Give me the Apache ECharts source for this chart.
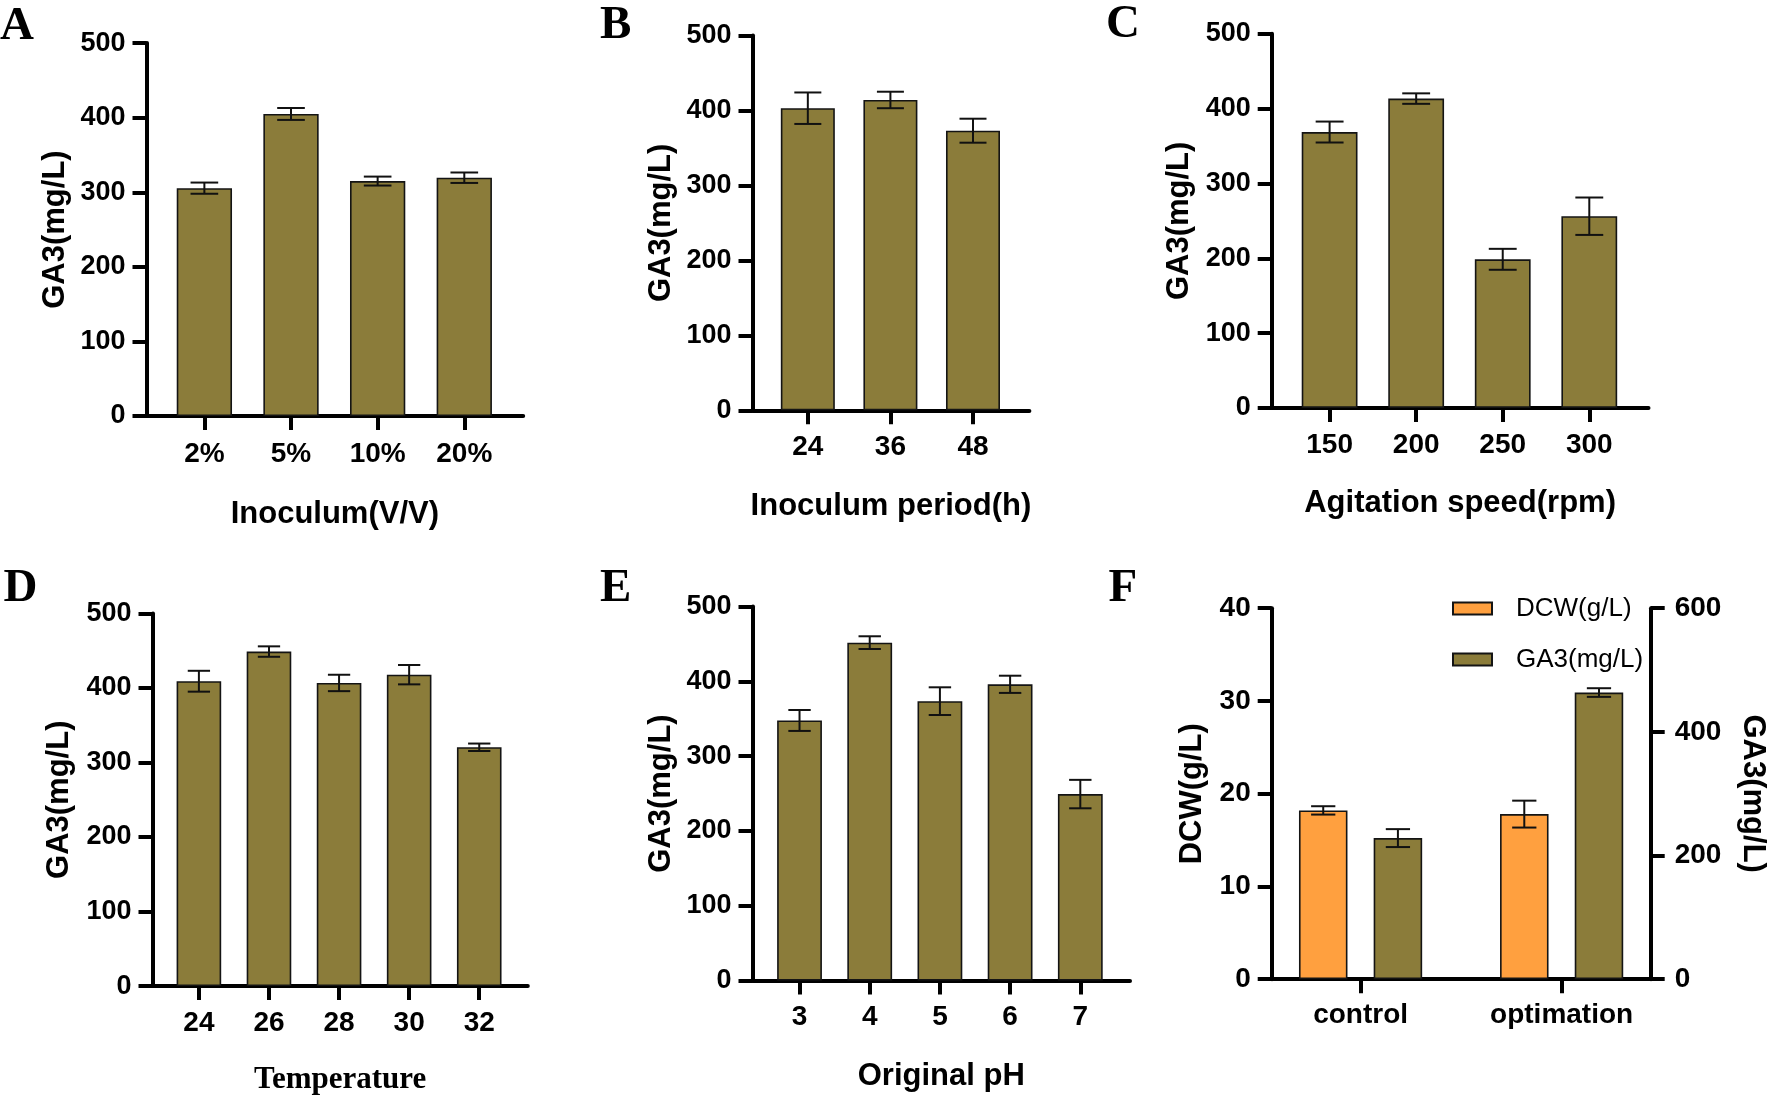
<!DOCTYPE html>
<html>
<head>
<meta charset="utf-8">
<script src="https://cdn.jsdelivr.net/npm/echarts@6/dist/echarts.min.js"></script>
<style>
html,body{margin:0;padding:0;background:#fff;}
#chart{width:1773px;height:1099px;}
</style>
</head>
<body>
<div id="chart"></div>
<script>
// ---------------- DATA ----------------
const inoculumCats = ['2%', '5%', '10%', '20%'];
const inoculumGA3 = [305.5, 405, 315, 319.5];
const inoculumErr = [7.5, 8, 6, 7];

const periodCats = ['24', '36', '48'];
const periodGA3 = [403, 414, 373];
const periodErr = [21, 11, 16];

const agitationCats = ['150', '200', '250', '300'];
const agitationGA3 = [368.7, 413.4, 198.6, 256.2];
const agitationErr = [14, 7, 14, 25];

const temperatureCats = ['24', '26', '28', '30', '32'];
const temperatureGA3 = [409, 448.8, 406.7, 417.8, 320.4];
const temperatureErr = [14, 7, 11, 13, 5];

const phCats = ['3', '4', '5', '6', '7'];
const phGA3 = [347.7, 451.7, 373.5, 396, 249.3];
const phErr = [14, 8.5, 18.5, 11.5, 19];

const finalCats = ['control', 'optimation'];
const finalDCW = [18.2, 17.8];
const finalDCWErr = [0.45, 1.45];
const finalGA3 = [228.2, 463.6];
const finalGA3Err = [14.5, 7];

const ga3Ticks = [0, 500, 100];      // min, max, interval
const dcwTicks = [0, 40, 10];
const ga3RightTicks = [0, 600, 200];

const panelLetters = ['A', 'B', 'C', 'D', 'E', 'F'];
const xNames = ['Inoculum(V/V)', 'Inoculum period(h)', 'Agitation speed(rpm)', 'Temperature', 'Original pH'];
const yName = 'GA3(mg/L)';
const legendNames = ['DCW(g/L)', 'GA3(mg/L)'];

// ---------------- STYLE / LAYOUT ----------------
const FONT = '"Liberation Sans", Arial, sans-serif';
const SERIF = '"Liberation Serif", "Times New Roman", serif';
const OLIVE = '#8B7C3A';
const ORANGE = '#FFA03F';
const INK = '#000';
const AXW = 4;

const layouts = [
  {left:146.5, top:43.1, width:376.7, height:372.9, xmin:-0.668, xmax:3.68, bw:55.3, lm:24, xng:82.5, yng:75.5},
  {left:752.5, top:35.5, width:276.9, height:374.8, xmin:-0.67, xmax:2.683, bw:54, lm:23, xng:81, yng:75.5},
  {left:1271.7, top:33.8, width:376.8, height:374.1, xmin:-0.669, xmax:3.684, bw:55.8, lm:23, xng:80, yng:76.5},
  {left:152.5, top:613.4, width:375.3, height:372.7, xmin:-0.662, xmax:4.693, bw:44.6, lm:23, xng:78.5, yng:78, serifName:true},
  {left:752.5, top:606.5, width:377.5, height:374.1, xmin:-0.67, xmax:4.708, bw:44.8, lm:23, xng:80, yng:75.5},
  {left:1271.7, top:608.2, width:379, height:371, xmin:-0.442, xmax:1.443, bw:48.5, gap:0.54, lm:22, yngL:64, yngR:86}
];
const letterPos = [[0, 26.7], [600, 25.9], [1106, 25], [3.6, 589.3], [600, 588.4], [1108.6, 589.3]];

const panels = [
  {cats: inoculumCats, vals: inoculumGA3, errs: inoculumErr},
  {cats: periodCats, vals: periodGA3, errs: periodErr},
  {cats: agitationCats, vals: agitationGA3, errs: agitationErr},
  {cats: temperatureCats, vals: temperatureGA3, errs: temperatureErr},
  {cats: phCats, vals: phGA3, errs: phErr}
];

const xTickLabel = {fontSize: 28, fontWeight: 'bold', fontFamily: FONT, color: INK};
const yTickLabel = {fontSize: 27, fontWeight: 'bold', fontFamily: FONT, color: INK};
const axisNameStyle = {fontSize: 31, fontWeight: 'bold', fontFamily: FONT, color: INK};

function idx(arr) { return arr.map((_, i) => i); }

function makeX(gi, cats, L) {
  return {
    type: 'value', gridIndex: gi, min: L.xmin, max: L.xmax,
    splitLine: {show: false},
    axisLine: {show: true, onZero: false, lineStyle: {color: INK, width: AXW}},
    axisTick: {show: true, customValues: idx(cats), length: 14, lineStyle: {color: INK, width: AXW}},
    axisLabel: Object.assign({customValues: idx(cats), margin: L.lm,
      formatter: v => cats[Math.round(v)]}, xTickLabel)
  };
}

function makeY(gi, ticks, L, name, gap, pos, rot, labelStyle) {
  return {
    type: 'value', gridIndex: gi, min: ticks[0], max: ticks[1], interval: ticks[2],
    position: pos || 'left',
    splitLine: {show: false},
    axisLine: {show: true, onZero: false, lineStyle: {color: INK, width: AXW}},
    axisTick: {show: true, length: 14, lineStyle: {color: INK, width: AXW}},
    axisLabel: Object.assign({margin: pos === 'right' ? 24 : 21}, labelStyle || yTickLabel),
    name: name, nameLocation: 'middle', nameGap: gap,
    nameRotate: rot,
    nameTextStyle: axisNameStyle
  };
}

function errSeries(xi, yi, vals, errs, offset, bw) {
  return {
    type: 'custom', xAxisIndex: xi, yAxisIndex: yi, z: 10, clip: false, silent: true,
    data: vals.map((v, i) => [i, v, errs[i]]),
    encode: {x: 0, y: 1},
    renderItem: function (params, api) {
      const x = api.value(0), v = api.value(1), e = api.value(2);
      const p1 = api.coord([x, v + e]);
      const p2 = api.coord([x, v - e]);
      const cx = p1[0] + offset, hw = bw / 4;
      const st = {stroke: '#111', lineWidth: 2};
      return {type: 'group', children: [
        {type: 'line', shape: {x1: cx, y1: p1[1], x2: cx, y2: p2[1]}, style: st},
        {type: 'line', shape: {x1: cx - hw, y1: p1[1], x2: cx + hw, y2: p1[1]}, style: st},
        {type: 'line', shape: {x1: cx - hw, y1: p2[1], x2: cx + hw, y2: p2[1]}, style: st}
      ]};
    }
  };
}

const grids = [], xAxes = [], yAxes = [], series = [];

layouts.forEach((L, gi) => {
  grids.push({left: L.left, top: L.top, width: L.width, height: L.height, containLabel: false, outerBoundsMode: 'none'});
});

panels.forEach((P, gi) => {
  const L = layouts[gi];
  const x = makeX(gi, P.cats, L);
  x.name = xNames[gi];
  x.nameLocation = 'middle';
  x.nameGap = L.xng;
  x.nameTextStyle = L.serifName
    ? {fontSize: 31, fontWeight: 'bold', fontFamily: SERIF, color: INK}
    : axisNameStyle;
  xAxes.push(x);
  yAxes.push(makeY(gi, ga3Ticks, L, yName, L.yng, 'left'));
  series.push({
    type: 'bar', xAxisIndex: gi, yAxisIndex: gi, barWidth: L.bw,
    data: P.vals.map((v, i) => [i, v]),
    itemStyle: {color: OLIVE, borderColor: '#141414', borderWidth: 1.6}
  });
  series.push(errSeries(gi, gi, P.vals, P.errs, 0, L.bw));
});

// Panel F (dual axis)
const LF = layouts[5];
const fTickLabel = {fontSize: 28, fontWeight: 'bold', fontFamily: FONT, color: INK};
xAxes.push(makeX(5, finalCats, LF));
yAxes.push(makeY(5, dcwTicks, LF, 'DCW(g/L)', LF.yngL, 'left', undefined, fTickLabel));
yAxes.push(makeY(5, ga3RightTicks, LF, 'GA3(mg/L)', LF.yngR, 'right', -90, fTickLabel));
const fOff = (LF.bw + LF.bw * LF.gap) / 2;
series.push({
  name: legendNames[0], type: 'bar', xAxisIndex: 5, yAxisIndex: 5, barWidth: LF.bw, barGap: (LF.gap * 100) + '%',
  data: finalDCW.map((v, i) => [i, v]),
  itemStyle: {color: ORANGE, borderColor: '#141414', borderWidth: 1.6}
});
series.push({
  name: legendNames[1], type: 'bar', xAxisIndex: 5, yAxisIndex: 6, barWidth: LF.bw, barGap: (LF.gap * 100) + '%',
  data: finalGA3.map((v, i) => [i, v]),
  itemStyle: {color: OLIVE, borderColor: '#141414', borderWidth: 1.6}
});
series.push(errSeries(5, 5, finalDCW, finalDCWErr, -fOff, LF.bw));
series.push(errSeries(5, 6, finalGA3, finalGA3Err, fOff, LF.bw));

const option = {
  animation: false,
  backgroundColor: '#fff',
  grid: grids,
  xAxis: xAxes,
  yAxis: yAxes,
  series: series,
  legend: {
    data: legendNames, orient: 'vertical', left: 1447, top: 590,
    itemWidth: 39, itemHeight: 12, itemGap: 24, icon: 'rect', selectedMode: false,
    textStyle: {fontSize: 26, fontFamily: FONT, color: INK, lineHeight: 27, padding: [0, 0, 0, 19]}
  },
  graphic: panelLetters.map((t, i) => ({
    type: 'text', x: letterPos[i][0], y: letterPos[i][1],
    style: {text: t, font: 'bold 47px ' + SERIF, fill: INK, verticalAlign: 'middle', align: 'left'}
  }))
};

const chart = echarts.init(document.getElementById('chart'), null, {renderer: 'canvas'});
chart.setOption(option);
</script>
</body>
</html>
